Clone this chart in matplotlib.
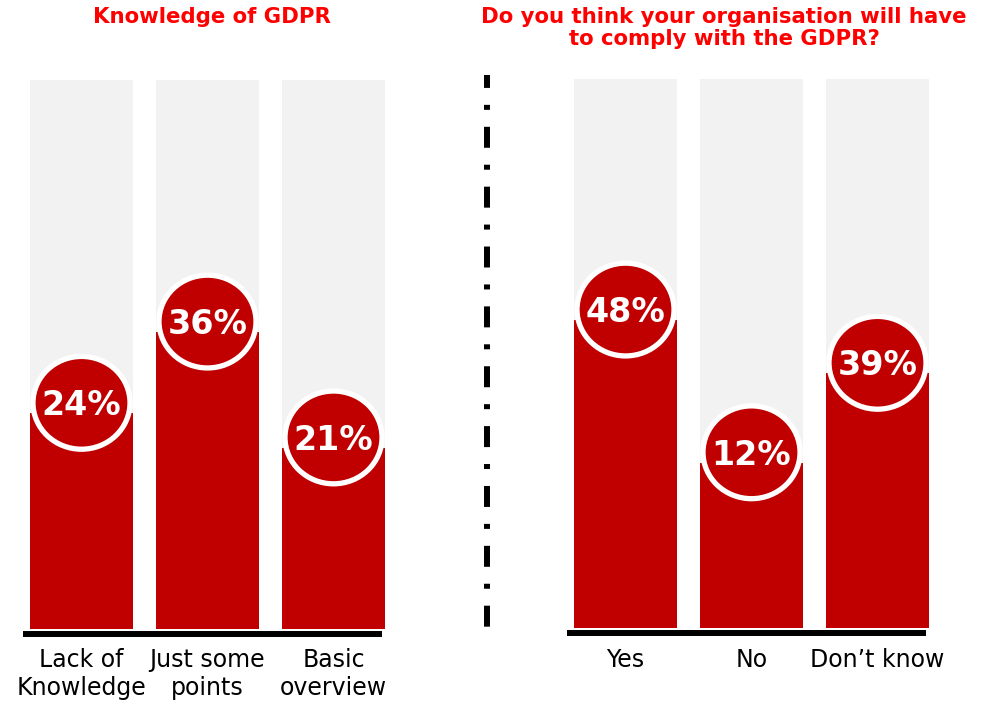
import matplotlib
matplotlib.use("Agg")
import matplotlib.pyplot as plt
from matplotlib.lines import Line2D
from matplotlib.patches import Ellipse

# data (bar heights on the chart's own 0-100 track scale)
knowledge_labels = ["Lack of\nKnowledge", "Just some\npoints", "Basic\noverview"]
knowledge_pct = ["24%", "36%", "21%"]
knowledge_heights = [39.3, 54.1, 33.0]

comply_labels = ["Yes", "No", "Don\u2019t know"]
comply_pct = ["48%", "12%", "39%"]
comply_heights = [56.1, 30.1, 46.4]

track_max = 100

RED = "#C00000"
GREY = "#F2F2F2"
TITLE_RED = "#FF0000"

W, H = 984, 702
plt.rcParams['font.family'] = ['DejaVu Sans']
plt.rcParams['lines.scale_dashes'] = False

fig = plt.figure(figsize=(W / 100, H / 100), dpi=100)


def px_axes(x0, x1, y_top, y_bot):
    return fig.add_axes([x0 / W, 1 - y_bot / H, (x1 - x0) / W, (y_bot - y_top) / H])


def draw_panel(ax, labels, pcts, heights, xlim, ylim):
    xs = list(range(len(heights)))
    ax.bar(xs, [track_max] * len(xs), width=0.82, color=GREY, zorder=1)
    ax.bar(xs, heights, width=0.82, color=RED, zorder=2)
    for x, h, p in zip(xs, heights, pcts):
        circ = Ellipse((x, h + 1.9), 0.77, 16.9, facecolor=RED,
                       edgecolor="white", linewidth=3.8, zorder=3, clip_on=False)
        ax.add_patch(circ)
        ax.text(x, h + 1.4, p, ha="center", va="center", color="white",
                fontsize=24, fontweight="bold", zorder=4)
    # thick baseline under the bars
    ax.plot([-0.465, 2.385], [-0.9, -0.9], color="black", lw=4.3,
            solid_capstyle="butt", zorder=2, clip_on=False)
    for x, lab in zip(xs, labels):
        ax.text(x, -8.2 if "\n" in lab else -5.8, lab, ha="center", va="center",
                fontsize=17, color="black", linespacing=1.2)
    ax.set_xlim(*xlim)
    ax.set_ylim(*ylim)
    ax.axis("off")


ax1 = px_axes(20, 395, 75, 645)
draw_panel(ax1, knowledge_labels, knowledge_pct, knowledge_heights,
           (-0.488, 2.488), (-2.91, 100.91))

ax2 = px_axes(560, 940, 75, 645)
draw_panel(ax2, comply_labels, comply_pct, comply_heights,
           (-0.52, 2.496), (-3.10, 100.72))

fig.text(212 / W, 1 - 17 / H, "Knowledge of GDPR", ha="center", va="center",
         color=TITLE_RED, fontsize=15.3, fontweight="bold")
fig.text(724 / W, 1 - 28 / H, "Do you think your organisation will have\nto comply with the GDPR?",
         ha="center", va="center", color=TITLE_RED, fontsize=15.3,
         fontweight="bold", linespacing=1.15)

# dash-dot divider between the two panels
divider = Line2D([487 / W, 487 / W], [1 - 75 / H, 1 - 628 / H], transform=fig.transFigure,
                 color="black", lw=4.3, solid_capstyle="butt", dash_capstyle="butt",
                 linestyle=(5.8, (15.1, 12.2, 3.6, 12.2)))
fig.add_artist(divider)

fig.savefig("out.png", dpi=100)
